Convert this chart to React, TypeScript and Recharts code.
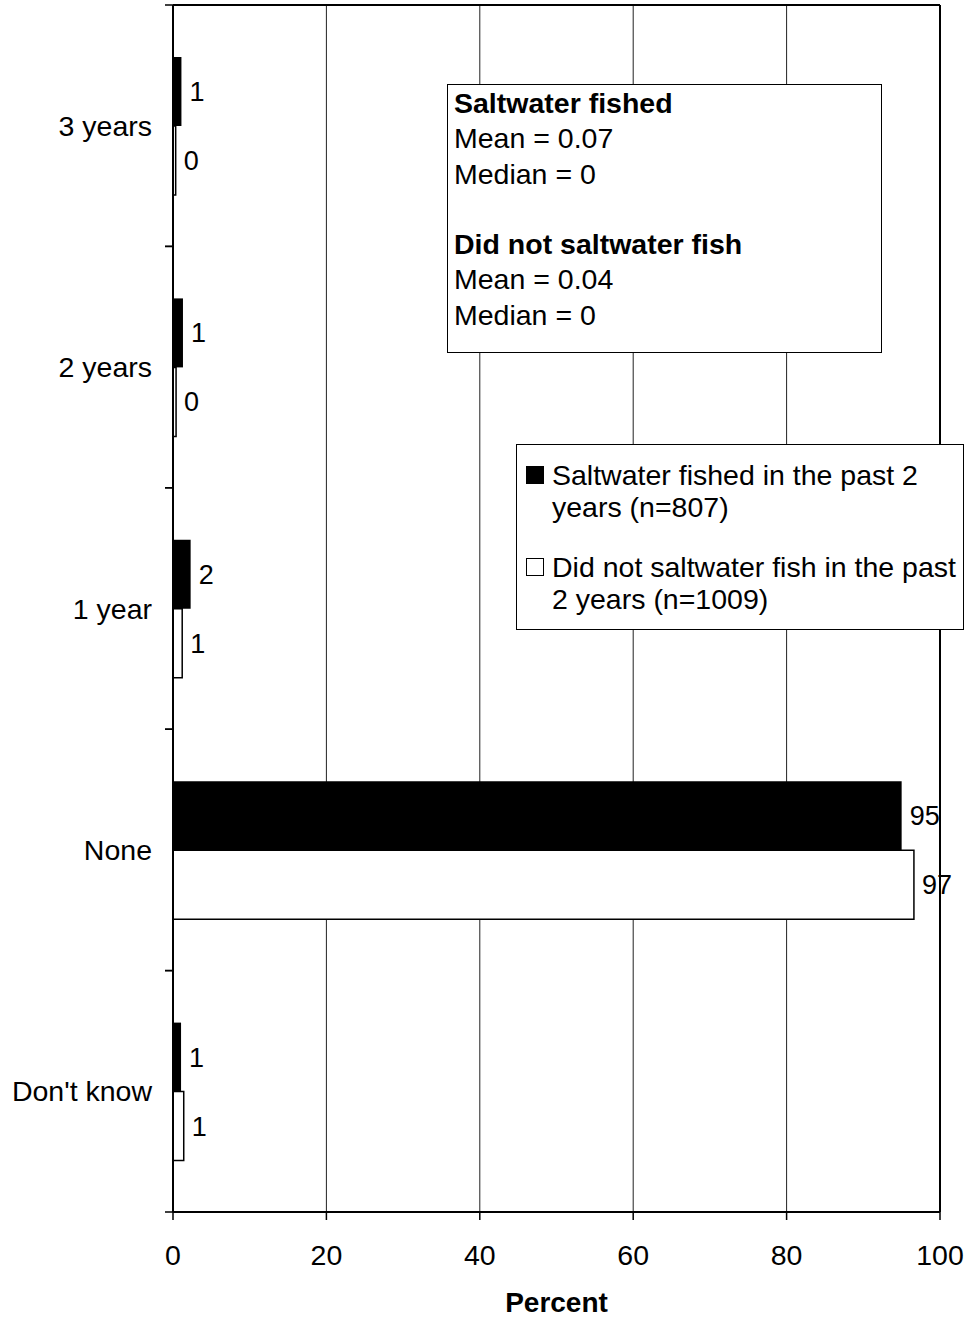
import { BarChart, Bar, XAxis, YAxis, CartesianGrid, Legend, LabelList, ReferenceLine } from 'recharts'

const categories = ['3 years', '2 years', '1 year', 'None', "Don't know"]
const fishedValues = [1.1, 1.3, 2.3, 95, 1.05]
const notFishedValues = [0.35, 0.4, 1.2, 96.6, 1.4]
const fishedLabels = ['1', '1', '2', '95', '1']
const notFishedLabels = ['0', '0', '1', '97', '1']
const xTicks = [0, 20, 40, 60, 80, 100]
const seriesNames = [
  'Saltwater fished in the past 2 years (n=807)',
  'Did not saltwater fish in the past 2 years (n=1009)',
]
const seriesColors = ['#000', '#fff']
const statsGroups = [
  { title: 'Saltwater fished', mean: '0.07', median: '0' },
  { title: 'Did not saltwater fish', mean: '0.04', median: '0' },
]

const data = categories.map((category, i) => ({
  category,
  fished: fishedValues[i],
  notFished: notFishedValues[i],
  fishedLabel: fishedLabels[i],
  notFishedLabel: notFishedLabels[i],
}))

const FONT = '"Liberation Sans", Arial, sans-serif'

// category label at band centre, small tick marks at the band edges
const YTick = (props: any) => {
  const { x, y, payload } = props
  const half = payload?.offset ?? 0
  return (
    <g>
      <line x1={x + 13} x2={x + 21} y1={y - half} y2={y - half} stroke="#000" strokeWidth={1.5} />
      <line x1={x + 13} x2={x + 21} y1={y + half} y2={y + half} stroke="#000" strokeWidth={1.5} />
      <text x={x} y={y} textAnchor="end" dominantBaseline="central" fontSize={28.5} fill="#000">
        {payload.value}
      </text>
    </g>
  )
}

// legend drawn in series order (vertical layout reverses the payload)
const LegendBox = () => (
  <div
    style={{
      boxSizing: 'border-box',
      width: 448,
      height: 186,
      border: '1.5px solid #000',
      background: '#fff',
      padding: '14px 0 0 9px',
      fontSize: 28.5,
      lineHeight: '32px',
      color: '#000',
    }}
  >
    {seriesNames.map((name, i) => (
      <div key={i} style={{ display: 'flex', alignItems: 'flex-start', marginBottom: 28 }}>
        <div
          style={{
            boxSizing: 'border-box',
            width: 18,
            height: 18,
            marginTop: 7,
            marginRight: 8,
            background: seriesColors[i],
            border: '1.5px solid #000',
            flex: 'none',
          }}
        />
        <div style={{ width: 412 }}>{name}</div>
      </div>
    ))}
  </div>
)

export default function App() {
  return (
    <div
      style={{
        position: 'absolute',
        left: 0,
        top: 0,
        width: 968,
        height: 1317,
        background: '#fff',
        fontFamily: FONT,
      }}
    >
      <BarChart
        width={968}
        height={1317}
        data={data}
        layout="vertical"
        margin={{ top: 5, right: 28, bottom: 0, left: 0 }}
        barGap={0}
        barSize={69}
      >
        <CartesianGrid horizontal={false} stroke="#222" strokeWidth={1} />
        {/* top border of the plot box */}
        <CartesianGrid
          vertical={false}
          stroke="#000"
          strokeWidth={2}
          horizontalCoordinatesGenerator={({ offset }: any) => [offset.top]}
        />
        <XAxis
          type="number"
          domain={[0, 100]}
          ticks={xTicks}
          height={105}
          tickSize={8}
          tickMargin={25}
          axisLine={{ stroke: '#000', strokeWidth: 2 }}
          tickLine={{ stroke: '#000', strokeWidth: 1.5 }}
          tick={{ fill: '#000', fontSize: 28.5 }}
          label={{ value: 'Percent', position: 'insideBottom', offset: 5, fontSize: 28, fontWeight: 'bold', fill: '#000' }}
        />
        <YAxis
          type="category"
          dataKey="category"
          width={173}
          tickSize={8}
          tickMargin={13}
          tickLine={false}
          axisLine={{ stroke: '#000', strokeWidth: 2 }}
          tick={<YTick />}
          interval={0}
        />
        <ReferenceLine x={100} stroke="#000" strokeWidth={2} />
        <Bar dataKey="fished" name={seriesNames[0]} fill={seriesColors[0]} isAnimationActive={false}>
          <LabelList dataKey="fishedLabel" position="right" offset={8} fontSize={27} fill="#000" />
        </Bar>
        <Bar
          dataKey="notFished"
          name={seriesNames[1]}
          fill={seriesColors[1]}
          stroke="#000"
          strokeWidth={1.5}
          isAnimationActive={false}
        >
          <LabelList dataKey="notFishedLabel" position="right" offset={8} fontSize={27} fill="#000" />
        </Bar>
        <Legend
          layout="vertical"
          align="center"
          verticalAlign="middle"
          content={<LegendBox />}
          wrapperStyle={{ left: 516, top: 444, width: 448, height: 186 }}
        />
      </BarChart>
      <div
        style={{
          position: 'absolute',
          left: 447,
          top: 84,
          width: 435,
          height: 269,
          boxSizing: 'border-box',
          border: '1.5px solid #000',
          background: '#fff',
          padding: '1px 6px',
          fontSize: 28.5,
          lineHeight: '35.3px',
          color: '#000',
        }}
      >
        {statsGroups.map((g, i) => (
          <div key={i} style={{ marginBottom: i === 0 ? 35.3 : 0 }}>
            <div style={{ fontWeight: 'bold' }}>{g.title}</div>
            <div>Mean = {g.mean}</div>
            <div>Median = {g.median}</div>
          </div>
        ))}
      </div>
    </div>
  )
}
